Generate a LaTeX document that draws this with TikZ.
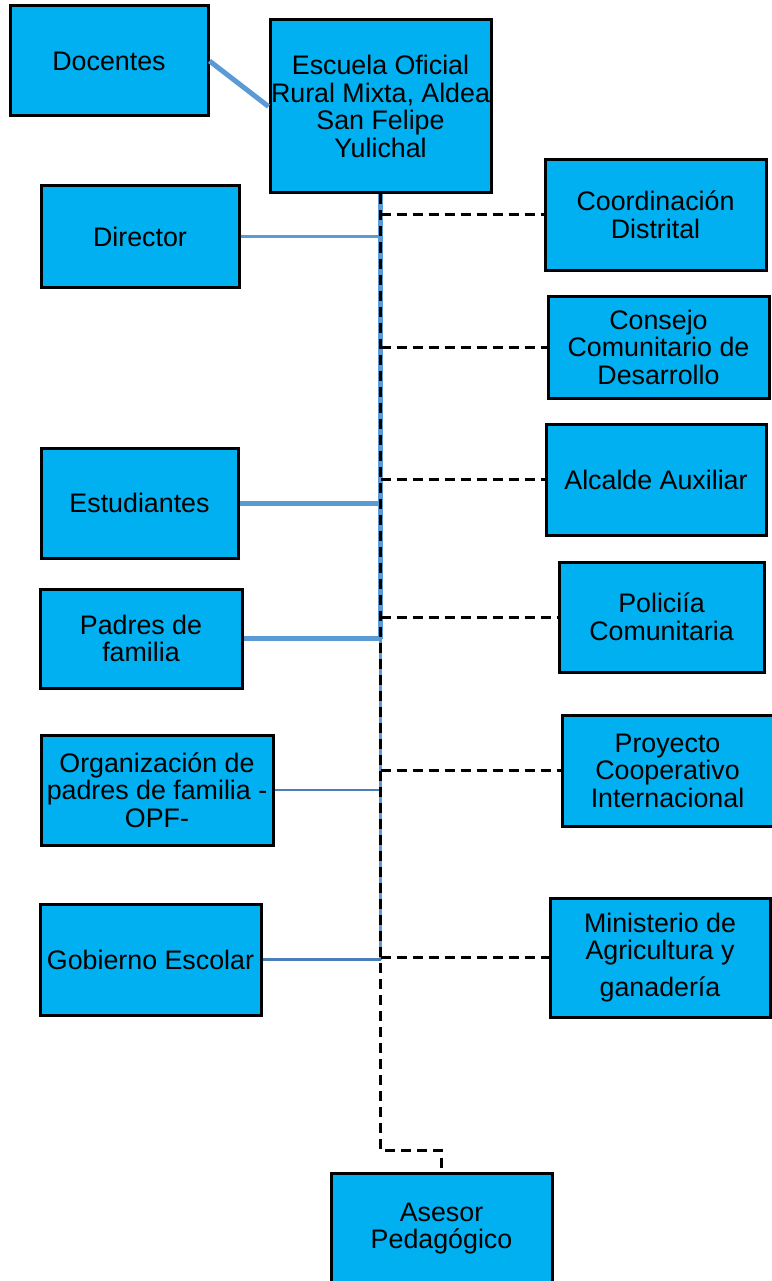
\documentclass[tikz,border=0pt]{standalone}
\usepackage{fontspec}
\setmainfont{Liberation Sans}
\definecolor{boxfill}{HTML}{00B0F0}
\definecolor{lineblue}{HTML}{5B9BD5}
\definecolor{darkblue}{HTML}{4A7EBB}
\tikzset{
  orgbox/.style={draw=black, line width=3pt, fill=boxfill, align=center, inner sep=0pt,
    font=\fontsize{26.8}{27.5}\selectfont},
  thickblue/.style={draw=lineblue, line width=5pt},
  thinblue/.style={draw=lineblue, line width=2.5pt},
  thinblueB/.style={draw=darkblue, line width=2.5pt},
  dashline/.style={draw=black, line width=3pt, dash pattern=on 10pt off 6pt},
}
\begin{document}
\begin{tikzpicture}[x=1pt, y=-1pt]
\useasboundingbox (0,0) rectangle (771,1281);
\fill[white] (0,0) rectangle (771,1281);
% left column
\node[orgbox, minimum width=198, minimum height=110] (doc) at (109,61) {Docentes};
\node[orgbox, minimum width=221, minimum height=173] (esc) at (380.5,106.5) {Escuela Oficial\\Rural Mixta, Aldea\\San Felipe\\Yulichal};
\node[orgbox, minimum width=198, minimum height=101] (dir) at (140,236.5) {Director};
\node[orgbox, minimum width=197, minimum height=110] (est) at (139.5,503) {Estudiantes};
\node[orgbox, minimum width=202, minimum height=99] (pad) at (141,638.5) {Padres de\\familia};
\node[orgbox, minimum width=232, minimum height=110] (opf) at (157,790) {Organización de\\padres de familia -\\OPF-};
\node[orgbox, minimum width=221, minimum height=111] (gob) at (150.5,959.5) {Gobierno Escolar};
% right column
\node[orgbox, minimum width=221, minimum height=110] (coo) at (655.5,215) {Coordinación\\Distrital};
\node[orgbox, minimum width=221, minimum height=102] (con) at (658.5,347) {Consejo\\Comunitario de\\Desarrollo};
\node[orgbox, minimum width=220, minimum height=111] (alc) at (656,479.5) {Alcalde Auxiliar};
\node[orgbox, minimum width=205, minimum height=110] (pol) at (661.5,617) {Policiía\\Comunitaria};
\node[orgbox, minimum width=211, minimum height=111] (pro) at (667.5,770.5) {Proyecto\\Cooperativo\\Internacional};
\node[orgbox, minimum width=220, minimum height=119] (min) at (660,957.5) {Ministerio de\\Agricultura y\\[9pt]ganadería};
\node[orgbox, minimum width=221, minimum height=111] (ase) at (441.5,1228.5) {Asesor\\Pedagógico};
\coordinate (bend) at (380.5,1150);
% blue connectors
\draw[thickblue] (doc.east) -- (esc.west);
\draw[thickblue] (esc.south) -- (esc.south |- pad.east);
\draw[thinblue] (esc.south |- pad.east) -- (esc.south |- gob.east);
\draw[thinblue] (dir.east) -- (dir.east -| esc.south);
\draw[thickblue] (est.east) -- (est.east -| esc.south);
\draw[thickblue] (pad.east) -- (pad.east -| esc.south);
\draw[thinblueB] (opf.east) -- (opf.east -| esc.south);
\draw[thinblueB] (gob.east) -- (gob.east -| esc.south);
% dashed connectors
\draw[dashline] (esc.south) -- (bend) -| (ase.north);
\draw[dashline] (coo.west -| esc.south) -- (coo.west);
\draw[dashline] (con.west -| esc.south) -- (con.west);
\draw[dashline] (alc.west -| esc.south) -- (alc.west);
\draw[dashline] (pol.west -| esc.south) -- (pol.west);
\draw[dashline] (pro.west -| esc.south) -- (pro.west);
\draw[dashline] (min.west -| esc.south) -- (min.west);
\end{tikzpicture}
\end{document}
